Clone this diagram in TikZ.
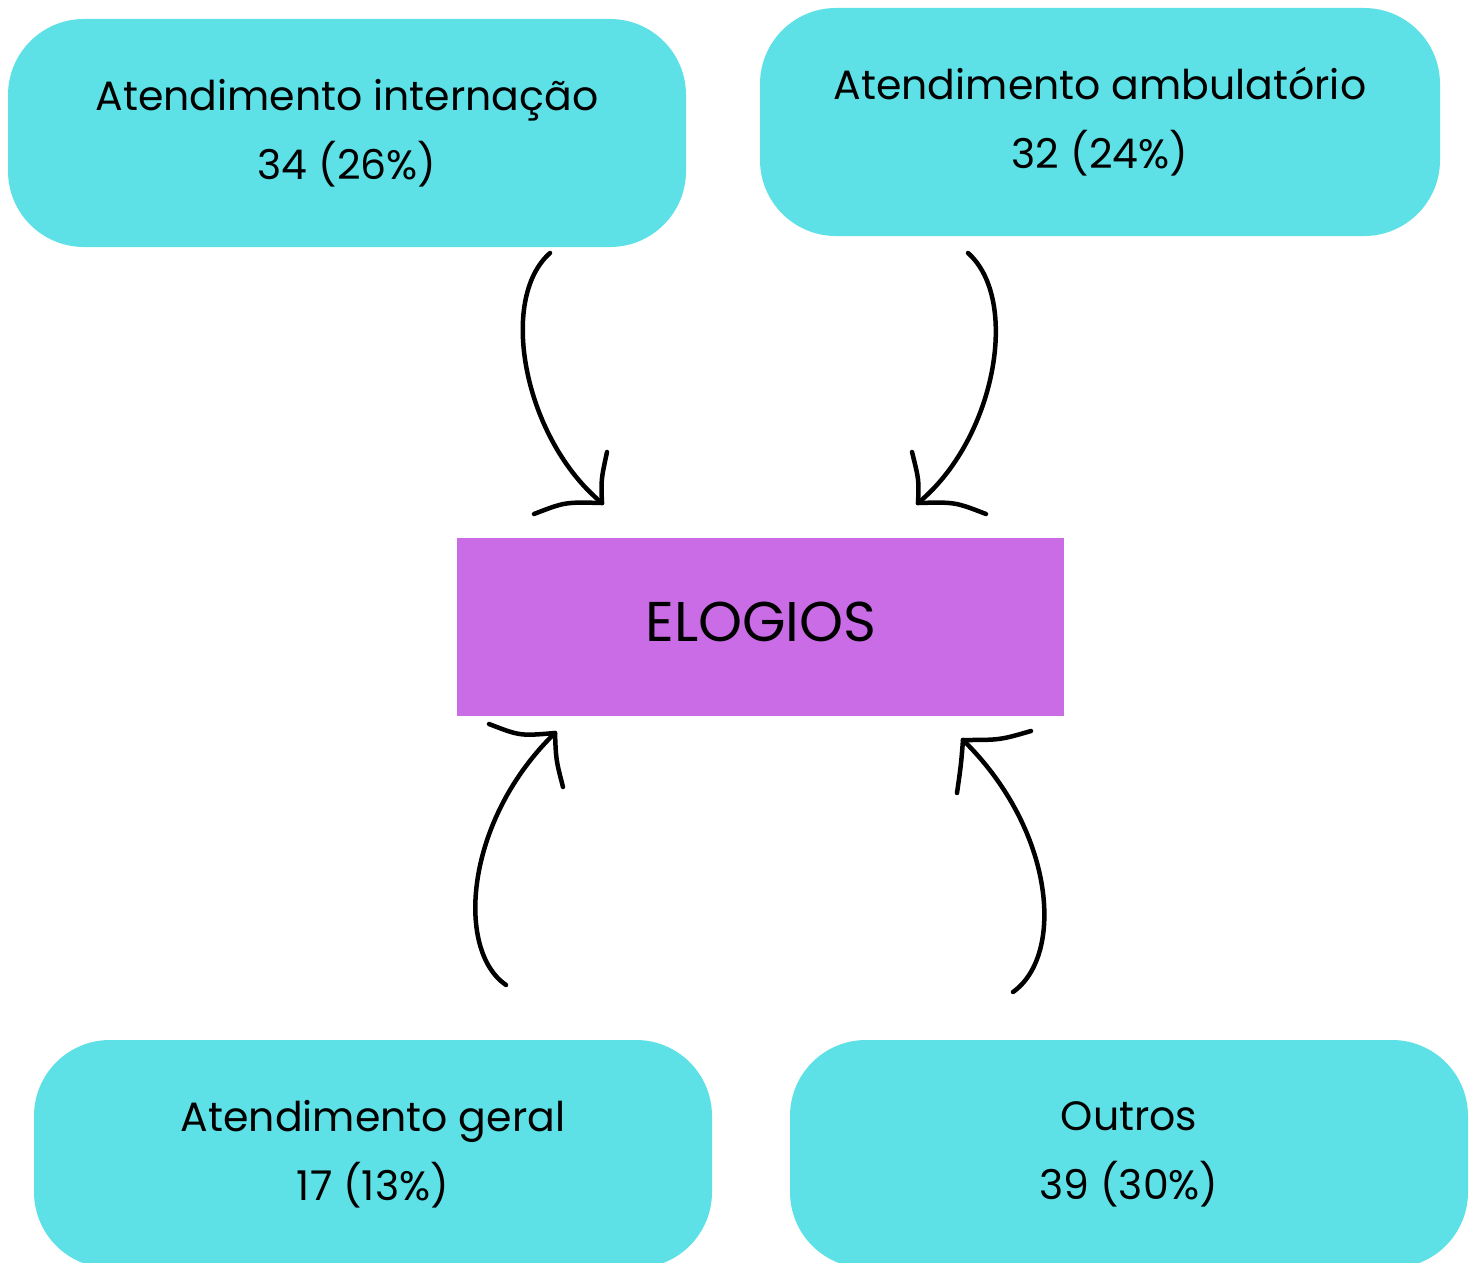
\documentclass[tikz,border=0pt]{standalone}
\usepackage{fontspec}
\setmainfont{Poppins}
\definecolor{cyanbox}{HTML}{5DE1E6}
\definecolor{purplebox}{HTML}{CA6CE6}
\tikzset{
  catbox/.style={fill=cyanbox, draw=none, rounded corners=76pt, minimum width=678pt, minimum height=228pt, align=center, inner sep=0pt, text=black, font=\fontsize{41}{69}\selectfont},
  mainbox/.style={fill=purplebox, draw=none, minimum width=607pt, minimum height=178pt, inner sep=0pt},
  maintext/.style={text=black, inner sep=0pt, font=\fontsize{56}{60}\selectfont},
  conn/.style={draw=black, line width=4.5pt, line cap=round, line join=round}
}
\begin{document}
\begin{tikzpicture}[x=1pt,y=-1pt]
\useasboundingbox (0,0) rectangle (1478,1263);
\clip (0,0) rectangle (1478,1263);
\fill[white] (0,0) rectangle (1478,1263);
\node[catbox] (int) at (347,133) {Atendimento internação\\34 (26\%)};
\node[catbox, minimum width=680pt] (amb) at (1100,122) {Atendimento ambulatório\\32 (24\%)};
\node[catbox] (ger) at (373,1154) {Atendimento geral\\17 (13\%)};
\node[catbox] (out) at (1129,1154) {Outros\\39 (30\%)};
\node[mainbox] (elo) at (760.5,627) {};
\node[maintext] (elot) at (761,622) {ELOGIOS};
% arrow coordinates
\coordinate (a1s) at (550,253);
\coordinate (a1t) at (602,503);
\coordinate (a2s) at (968,253);
\coordinate (a2t) at (918,503);
\coordinate (a3s) at (506,985);
\coordinate (a3t) at (555,733);
\coordinate (a4s) at (1013,992);
\coordinate (a4t) at (963,740);
% arrow 1
\draw[conn] (a1s) .. controls (497,300) and (525,440) .. (a1t);
\draw[conn] (a1t) .. controls (601,480) .. (607,452);
\draw[conn] (a1t) .. controls (565,502) .. (534,514);
% arrow 2
\draw[conn] (a2s) .. controls (1021,300) and (995,440) .. (a2t);
\draw[conn] (a2t) .. controls (919,480) .. (912,452);
\draw[conn] (a2t) .. controls (955,502) .. (986,514);
% arrow 3
\draw[conn] (a3s) .. controls (455,950) and (465,820) .. (a3t);
\draw[conn] (a3t) .. controls (556,760) .. (563,787);
\draw[conn] (a3t) .. controls (520,736) .. (489,724);
% arrow 4
\draw[conn] (a4s) .. controls (1065,955) and (1055,830) .. (a4t);
\draw[conn] (a4t) .. controls (961,765) .. (957,793);
\draw[conn] (a4t) .. controls (1000,740) .. (1031,731);
\end{tikzpicture}
\end{document}
